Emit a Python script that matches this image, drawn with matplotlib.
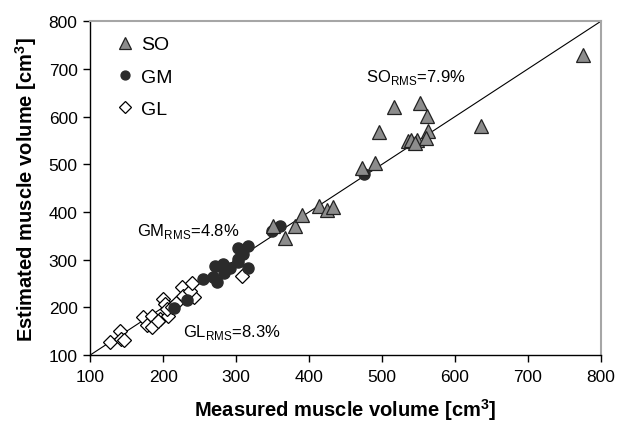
import matplotlib
matplotlib.use("Agg")
import matplotlib.pyplot as plt

plt.rcParams["font.family"] = ["Liberation Sans", "DejaVu Sans"]
plt.rcParams["mathtext.fontset"] = "custom"
plt.rcParams["mathtext.rm"] = "Liberation Sans"
plt.rcParams["mathtext.bf"] = "Liberation Sans:bold"

# SO (soleus) measured vs estimated
so_measured = [776, 636, 517, 552, 562, 496, 563, 535, 540, 548, 560, 545,
               473, 490, 350, 367, 381, 391, 414, 424, 433]
so_estimated = [729, 581, 621, 628, 602, 567, 569, 548, 552, 550, 555, 545,
                492, 503, 370, 345, 370, 393, 413, 405, 410]

# GM (gastrocnemius medialis)
gm_measured = [475, 349, 360, 302, 316, 310, 302, 303, 317, 282, 271, 292,
               283, 274, 255, 268, 233, 215]
gm_estimated = [480, 360, 370, 325, 328, 312, 301, 296, 282, 291, 286, 282,
                272, 254, 259, 263, 215, 199]

# GL (gastrocnemius lateralis)
gl_measured = [127, 141, 143, 146, 173, 178, 185, 196, 185, 200, 203, 207,
               205, 226, 228, 242, 237, 239, 212, 308, 218, 193]
gl_estimated = [127, 151, 134, 131, 179, 163, 182, 176, 158, 217, 207, 182,
                196, 242, 224, 221, 235, 252, 200, 265, 210, 172]

labels = ["SO", "GM", "GL"]
ticks = [100, 200, 300, 400, 500, 600, 700, 800]

fig = plt.figure(figsize=(6.17, 4.27), dpi=100)
ax = fig.add_axes([0.146, 0.166, 0.828, 0.782])

# identity line
ax.plot([100, 800], [100, 800], color="black", linewidth=0.8, zorder=1)

ax.plot(gl_measured, gl_estimated, linestyle="none", marker="D",
        markersize=7.5, markerfacecolor="white", markeredgecolor="black",
        markeredgewidth=0.9, label=labels[2], zorder=2)
ax.plot(gm_measured, gm_estimated, linestyle="none", marker="o",
        markersize=8, markerfacecolor="#2b2b2b", markeredgecolor="#2b2b2b",
        label=labels[1], zorder=3)
ax.plot(so_measured, so_estimated, linestyle="none", marker="^",
        markersize=10.5, markerfacecolor="#8c8c8c", markeredgecolor="#222222",
        markeredgewidth=0.9, label=labels[0], zorder=4)

# legend in SO, GM, GL order
handles, lbls = ax.get_legend_handles_labels()
order = [2, 1, 0]
ax.legend([handles[i] for i in order], [lbls[i] for i in order],
          loc="upper left", bbox_to_anchor=(0.01, 1.0), frameon=False,
          fontsize=14, handletextpad=0.0, labelspacing=0.75,
          borderaxespad=0.35, markerscale=0.8, handlelength=1.6)

ax.text(478, 685, r"SO$_{\mathrm{RMS}}$=7.9%", fontsize=12, va="center")
ax.text(164, 362, r"GM$_{\mathrm{RMS}}$=4.8%", fontsize=12, va="center")
ax.text(227, 149, r"GL$_{\mathrm{RMS}}$=8.3%", fontsize=12, va="center")

ax.set_xlim(100, 800)
ax.set_ylim(100, 800)
ax.set_xticks(ticks)
ax.set_yticks(ticks)
ax.tick_params(direction="out", length=5, width=1, labelsize=12.5)
ax.tick_params(axis="x", pad=5)
ax.tick_params(axis="y", pad=4)

for side in ["top", "right"]:
    ax.spines[side].set_color("#a6a6a6")
    ax.spines[side].set_linewidth(1.5)
for side in ["left", "bottom"]:
    ax.spines[side].set_color("black")
    ax.spines[side].set_linewidth(1)

ax.set_xlabel(r"Measured muscle volume [cm$^{\mathbf{3}}$]",
              fontsize=14.5, fontweight="bold", labelpad=9)
ax.set_ylabel(r"Estimated muscle volume [cm$^{\mathbf{3}}$]",
              fontsize=14.5, fontweight="bold", labelpad=7)

fig.savefig("out.png", dpi=100)
